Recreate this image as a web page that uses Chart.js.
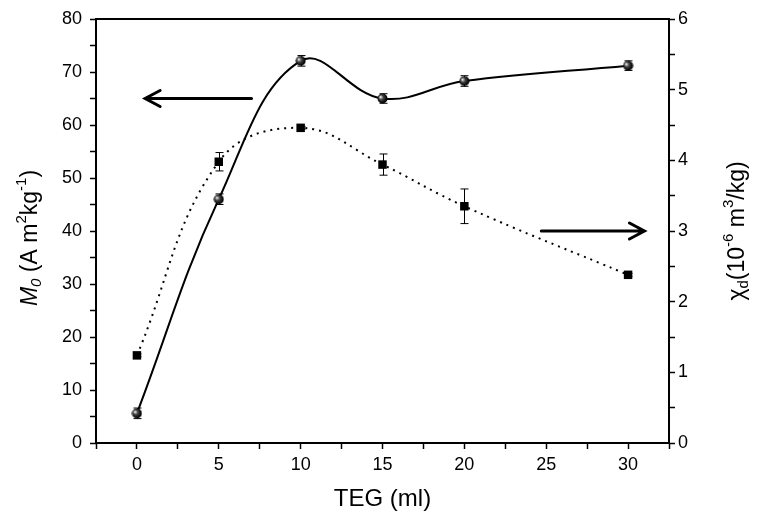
<!DOCTYPE html>
<html>
<head>
<meta charset="utf-8">
<script src="https://cdn.jsdelivr.net/npm/chart.js@4/dist/chart.umd.min.js"></script>
<style>
  html, body { margin: 0; padding: 0; background: #fff; }
  #wrap { width: 760px; height: 520px; }
</style>
</head>
<body>
<div id="wrap"><canvas id="teg"></canvas></div>
<script>
// TEG amount (ml)
const teg = [0, 5, 10, 15, 20, 30];
// saturation magnetisation M0, left axis
const m0 = [5.6, 46, 72.1, 65, 68.3, 71.2];
const m0Err = [1.0, 1.0, 1.0, 0.9, 1.0, 0.9];
// susceptibility chi_d, right axis
const chi = [1.24, 3.98, 4.46, 3.94, 3.35, 2.38];
const chiErr = [0.02, 0.13, 0.02, 0.15, 0.245, 0.02];

const xTicks = [0, 5, 10, 15, 20, 25, 30];
const leftTicks = [0, 10, 20, 30, 40, 50, 60, 70, 80];
const rightTicks = [0, 1, 2, 3, 4, 5, 6];

// arrows pointing to the axis each curve belongs to: [xFrom, xTo, y, axis]
const arrows = [
  [7.0, 0.5, 65, 'y'],
  [24.7, 31.0, 3.0, 'y2']
];

const FONT = '"Liberation Sans", Arial, sans-serif';

// shaded sphere marker
function sphere(r) {
  const c = document.createElement('canvas');
  c.width = c.height = r * 2 + 1;
  const g = c.getContext('2d');
  const grad = g.createRadialGradient(r - 1.5, r - 1, 0.5, r, r, r);
  grad.addColorStop(0, '#e0e0e0');
  grad.addColorStop(0.4, '#444');
  grad.addColorStop(1, '#000');
  g.fillStyle = grad;
  g.beginPath();
  g.arc(r + 0.5, r + 0.5, r, 0, Math.PI * 2);
  g.fill();
  return c;
}

const pts = (ys) => teg.map((x, i) => ({ x: x, y: ys[i] }));

// error bars, frame, arrows and axis titles
const extras = {
  id: 'extras',
  beforeDatasetsDraw(chart) {
    const ctx = chart.ctx, xs = chart.scales.x;
    const sets = [[m0, m0Err, chart.scales.y], [chi, chiErr, chart.scales.y2]];
    ctx.save();
    ctx.strokeStyle = '#000';
    ctx.lineWidth = 1;
    sets.forEach(([vals, errs, ys]) => {
      teg.forEach((t, i) => {
        const px = Math.round(xs.getPixelForValue(t)) + 0.5;
        const top = ys.getPixelForValue(vals[i] + errs[i]);
        const bot = ys.getPixelForValue(vals[i] - errs[i]);
        ctx.beginPath();
        ctx.moveTo(px, top); ctx.lineTo(px, bot);
        ctx.moveTo(px - 4, top); ctx.lineTo(px + 4, top);
        ctx.moveTo(px - 4, bot); ctx.lineTo(px + 4, bot);
        ctx.stroke();
      });
    });
    ctx.restore();
  },
  afterDraw(chart) {
    const ctx = chart.ctx, a = chart.chartArea, xs = chart.scales.x;
    ctx.save();
    ctx.strokeStyle = '#000';
    ctx.lineWidth = 2;
    ctx.strokeRect(a.left, a.top, a.right - a.left, a.bottom - a.top);

    ctx.lineWidth = 3;
    ctx.lineCap = 'round';
    arrows.forEach(([x0, x1, v, ax]) => {
      const p0 = xs.getPixelForValue(x0), p1 = xs.getPixelForValue(x1);
      const py = chart.scales[ax].getPixelForValue(v);
      const dir = p1 > p0 ? 1 : -1;
      ctx.beginPath();
      ctx.moveTo(p0, py); ctx.lineTo(p1, py);
      ctx.moveTo(p1 - dir * 15, py - 8); ctx.lineTo(p1, py); ctx.lineTo(p1 - dir * 15, py + 8);
      ctx.stroke();
    });

    // rotated axis titles with sub/superscripts
    const drawRich = (parts, cx, cy) => {
      ctx.save();
      ctx.translate(cx, cy);
      ctx.rotate(-Math.PI / 2);
      ctx.fillStyle = '#000';
      ctx.textBaseline = 'middle';
      const fontOf = (p) => (p.i ? 'italic ' : '') + (p.s ? '15px ' : '23px ') + FONT;
      let w = 0;
      parts.forEach(p => { ctx.font = fontOf(p); w += ctx.measureText(p.t).width; });
      let x = -w / 2;
      parts.forEach(p => {
        ctx.font = fontOf(p);
        const dy = p.s === 'sup' ? -9 : p.s === 'sub' ? 6 : 0;
        ctx.fillText(p.t, x, dy);
        x += ctx.measureText(p.t).width;
      });
      ctx.restore();
    };
    const midY = (a.top + a.bottom) / 2;
    drawRich([{ t: 'M', i: 1 }, { t: '0', i: 1, s: 'sub' }, { t: ' (A m' }, { t: '2', s: 'sup' },
              { t: 'kg' }, { t: '-1', s: 'sup' }, { t: ')' }], 31, midY + 7);
    drawRich([{ t: 'χ' }, { t: 'd', s: 'sub' }, { t: '(10' }, { t: '-6', s: 'sup' },
              { t: ' m' }, { t: '3', s: 'sup' }, { t: '/kg)' }], 738, midY);
    ctx.restore();
  }
};

const tickFont = { family: FONT, size: 18 };

new Chart(document.getElementById('teg'), {
  type: 'line',
  data: {
    datasets: [{
      label: 'M0',
      data: pts(m0),
      yAxisID: 'y',
      borderColor: '#000',
      borderWidth: 2,
      tension: 0.4,
      pointStyle: sphere(5),
      pointRadius: 5
    }, {
      label: 'chi_d',
      data: pts(chi),
      yAxisID: 'y2',
      borderColor: '#000',
      borderWidth: 2,
      borderDash: [2, 5],
      tension: 0.4,
      pointStyle: 'rect',
      pointRadius: 6,
      pointBackgroundColor: '#000',
      pointBorderColor: '#000',
      pointBorderWidth: 0
    }]
  },
  options: {
    responsive: true,
    maintainAspectRatio: false,
    animation: false,
    layout: { padding: { top: 19, left: 0, right: 0, bottom: 0 } },
    plugins: { legend: { display: false }, tooltip: { enabled: false } },
    scales: {
      x: {
        type: 'linear', min: -2.5, max: 32.5,
        border: { display: false },
        grid: { drawOnChartArea: false, tickLength: 6, tickColor: '#000', tickWidth: 1.5 },
        ticks: {
          stepSize: 2.5, color: '#000', font: tickFont, padding: 5, autoSkip: false, maxRotation: 0,
          callback: v => xTicks.includes(v) ? String(v) : ''
        },
        title: { display: true, text: 'TEG (ml)', color: '#000', font: { family: FONT, size: 24 }, padding: { top: 4, bottom: 6 } },
        afterFit: s => { s.height = 77; }
      },
      y: {
        position: 'left', min: 0, max: 80,
        border: { display: false },
        grid: { drawOnChartArea: false, tickLength: 6, tickColor: '#000', tickWidth: 1.5 },
        ticks: {
          stepSize: 5, color: '#000', font: tickFont, padding: 8, autoSkip: false,
          callback: v => leftTicks.includes(v) ? String(v) : ''
        },
        afterFit: s => { s.width = 96; }
      },
      y2: {
        position: 'right', min: 0, max: 6,
        border: { display: false },
        grid: { drawOnChartArea: false, tickLength: 6, tickColor: '#000', tickWidth: 1.5 },
        ticks: {
          stepSize: 0.5, color: '#000', font: tickFont, padding: 3, autoSkip: false,
          callback: v => rightTicks.includes(v) ? String(v) : ''
        },
        afterFit: s => { s.width = 91; }
      }
    }
  },
  plugins: [extras]
});
</script>
</body>
</html>
